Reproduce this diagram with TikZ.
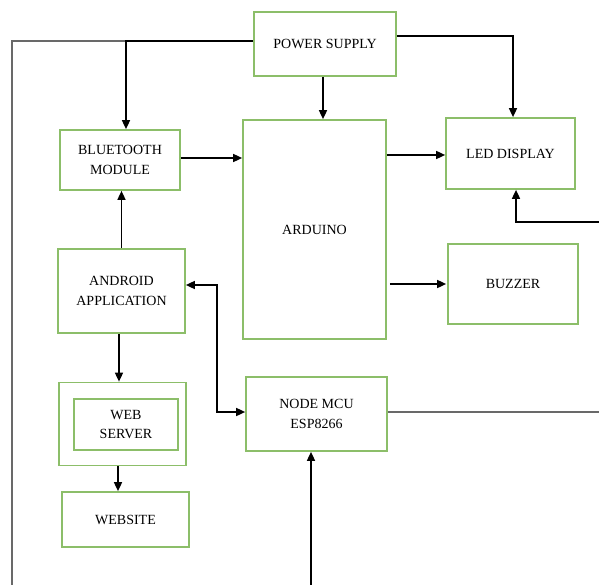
\documentclass[tikz,border=0pt]{standalone}
\usepackage{fontspec}
\setmainfont{Liberation Serif}
\usetikzlibrary{arrows.meta}
\definecolor{boxgreen}{RGB}{140,190,105}
\definecolor{linegray}{RGB}{105,105,105}
\tikzset{
  blk/.style={draw=boxgreen, line width=1.7pt, rectangle, inner sep=0pt, align=center,
    font=\fontsize{14}{19.5}\selectfont, text=black},
  arr/.style={draw=black, line width=1.6pt, -{Triangle[length=9pt,width=8pt]}},
  darr/.style={draw=black, line width=1.6pt, {Triangle[length=9pt,width=8pt]}-{Triangle[length=9pt,width=8pt]}},
  gline/.style={draw=linegray, line width=1.2pt}
}
\begin{document}
\begin{tikzpicture}[x=1pt,y=-1pt]
\useasboundingbox (0,0) rectangle (599,585);
\fill[white] (0,0) rectangle (599,585);

\node[blk, minimum width=142pt, minimum height=64pt] (ps) at (325,44) {POWER SUPPLY};
\node[blk, minimum width=120pt, minimum height=60pt] (bt) at (120,160) {BLUETOOTH\\MODULE};
\node[blk, minimum width=143pt, minimum height=219pt] (ard) at (314.5,229.5) {ARDUINO};
\node[blk, minimum width=129pt, minimum height=71pt] (led) at (510.5,153.5) {LED DISPLAY};
\node[blk, minimum width=130pt, minimum height=80pt] (buz) at (513,284) {BUZZER};
\node[blk, minimum width=127pt, minimum height=84pt] (and) at (121.5,291) {ANDROID\\APPLICATION};
\node[blk, minimum width=127pt, minimum height=83pt] (wsout) at (122.5,424) {};
\node[blk, minimum width=104pt, minimum height=51pt] (wsin) at (126,424.5) {WEB\\SERVER};
\node[blk, minimum width=141pt, minimum height=74pt] (mcu) at (316.5,414) {NODE MCU\\ESP8266};
\node[blk, minimum width=127pt, minimum height=55pt] (web) at (125.5,519.5) {WEBSITE};

% free ends
\coordinate (tl) at (12,41);
\coordinate (bl) at (12,585);
\coordinate (btj) at (126,41);
\coordinate (psr) at (513,36);
\coordinate (ledin) at (599,222);
\coordinate (ledj) at (516,222);
\coordinate (mcuout) at (599,412);
\coordinate (mcuin) at (311,585);
\coordinate (amj1) at (217,285);
\coordinate (amj2) at (217,412);

% power supply connections
\draw[gline] (btj) -- (tl) -- (bl);
\draw[arr] (ps.west |- btj) -- (btj) -- (btj |- bt.north);
\draw[arr] (ps.east |- psr) -- (psr) -- (psr |- led.north);
\draw[arr] ([xshift=-2pt]ps.south) -- ([xshift=-2pt]ps.south |- ard.north);

% arduino connections
\draw[arr] ([yshift=2pt]bt.east) -- ([yshift=2pt]bt.east -| ard.west);
\draw[arr] ([yshift=-1.5pt]ard.east |- led.west) -- ([yshift=-1.5pt]led.west);
\draw[arr] ([xshift=3pt]ard.east |- buz.west) -- ([xshift=-1pt]buz.west);
\draw[arr] (ledin) -- (ledj) -- (ledj |- led.south);

% android connections
\draw[arr] (and.north) -- (and.north |- bt.south);
\draw[darr] (and.east |- amj1) -- (amj1) -- (amj2) -- (mcu.west |- amj2);
\draw[arr] ([xshift=-2.5pt]and.south) -- ([xshift=-2.5pt]and.south |- wsout.north);
\draw[arr] ([xshift=-4.5pt]wsout.south) -- ([xshift=-4.5pt]wsout.south |- web.north);

% node mcu connections
\draw[gline] (mcu.east |- mcuout) -- (mcuout);
\draw[arr] (mcuin) -- (mcuin |- mcu.south);
\end{tikzpicture}
\end{document}
